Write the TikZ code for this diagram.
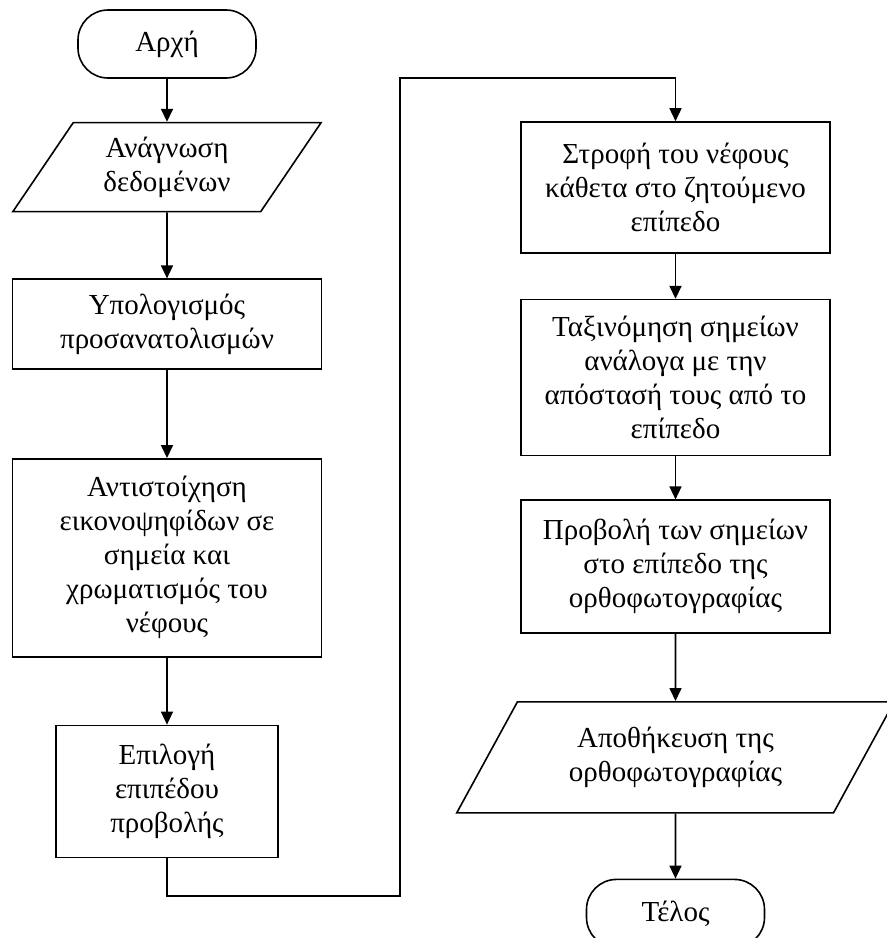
\documentclass[tikz,border=0pt]{standalone}
\usepackage{fontspec}
\setmainfont{Liberation Serif}
\usetikzlibrary{shapes.geometric, arrows.meta, positioning}

\begin{document}
\begin{tikzpicture}[
        font=\fontsize{29}{34}\selectfont,
        >={Triangle[width=12pt,length=13pt]},
        base/.style={draw, line width=1.6pt, align=center, inner sep=0pt},
        terminal/.style={base, rectangle, rounded corners=30pt, minimum width=178pt, minimum height=68pt},
        process/.style={base, rectangle, minimum width=309pt},
        data/.style={base, trapezium, trapezium left angle=56, trapezium right angle=124, trapezium stretches=true},
        arrow/.style={->, line width=1.6pt},
    ]
    \useasboundingbox (0,0) rectangle (887pt,-938pt);

    % Nodes
    \node[terminal] (start) at (167pt,-44pt) {Αρχή};
    \node[data, below=43pt of start, minimum width=309pt, minimum height=89pt] (read) {Ανάγνωση\\δεδομένων};
    \node[process, below=66pt of read, minimum height=90pt] (orient) {Υπολογισμός\\προσανατολισμών};
    \node[process, below=88pt of orient, minimum height=198pt] (match) {Αντιστοίχηση\\εικονοψηφίδων σε\\σημεία και\\χρωματισμός του\\νέφους};
    \node[process, below=67pt of match, minimum width=222pt, minimum height=132pt] (plane) {Επιλογή\\επιπέδου\\προβολής};

    \node[process, minimum height=131pt] (rotate) at (675.5pt,-187.5pt) {Στροφή του νέφους\\κάθετα στο ζητούμενο\\επίπεδο};
    \node[process, below=45pt of rotate, minimum height=156pt] (sort) {Ταξινόμηση σημείων\\ανάλογα με την\\απόστασή τους από το\\επίπεδο};
    \node[process, below=43pt of sort, minimum height=133pt] (project) {Προβολή των σημείων\\στο επίπεδο της\\ορθοφωτογραφίας};
    \node[data, below=67pt of project, minimum width=438pt, minimum height=111pt] (save) {Αποθήκευση της\\ορθοφωτογραφίας};
    \node[terminal, below=65pt of save] (stop) {Τέλος};

    \coordinate (jumpbot) at (400pt,-896pt);
    \coordinate (jumptop) at (400pt,-78pt);

    % Arrows
    \draw[arrow] (start) -- (read);
    \draw[arrow] (read) -- (orient);
    \draw[arrow] (orient) -- (match);
    \draw[arrow] (match) -- (plane);
    \draw[arrow] (plane.south) |- (jumpbot) -- (jumptop) -| (rotate.north);
    \draw[arrow] (rotate) -- (sort);
    \draw[arrow] (sort) -- (project);
    \draw[arrow] (project) -- (save);
    \draw[arrow] (save) -- (stop);

\end{tikzpicture}
\end{document}
